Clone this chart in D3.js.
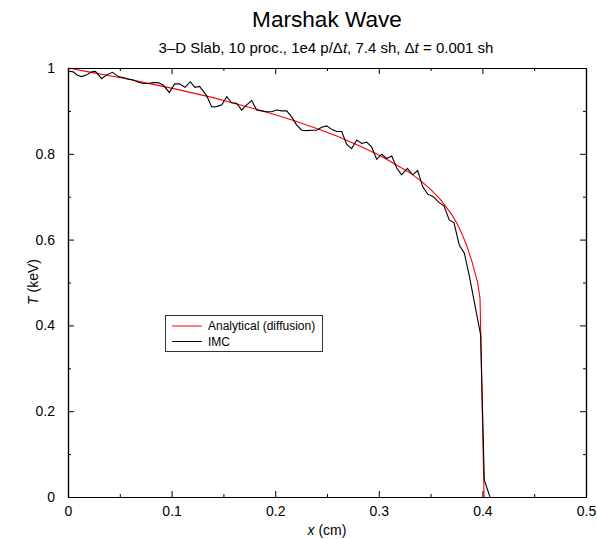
<!DOCTYPE html>
<html>
<head>
<meta charset="utf-8">
<script src="https://cdn.jsdelivr.net/npm/d3@7"></script>
<style>
  html, body { margin: 0; padding: 0; background: #fff; }
  svg { display: block; font-family: "Liberation Sans", Arial, Helvetica, sans-serif; }
</style>
</head>
<body>
<svg id="chart" width="597" height="539"></svg>
<script>
// ---- Data ----
const analyticalX = [0, 0.02, 0.04, 0.06, 0.08, 0.10, 0.12, 0.14, 0.16, 0.18, 0.20, 0.22, 0.24, 0.26, 0.28, 0.30, 0.31, 0.32, 0.33, 0.34, 0.35, 0.36, 0.37, 0.375, 0.38, 0.385, 0.39, 0.3954, 0.3977, 0.4016];
const analyticalT = [1.0, 0.991, 0.982, 0.973, 0.963, 0.953, 0.942, 0.931, 0.918, 0.905, 0.891, 0.876, 0.859, 0.841, 0.820, 0.797, 0.784, 0.770, 0.756, 0.738, 0.717, 0.692, 0.660, 0.640, 0.615, 0.585, 0.548, 0.500, 0.463, 0.0];

const imcX = [0.000, 0.005, 0.009, 0.013, 0.018, 0.023, 0.0265, 0.0325, 0.0373, 0.043, 0.0486, 0.0534, 0.0582, 0.063, 0.068, 0.0727, 0.0775, 0.0824, 0.0872, 0.092, 0.0978, 0.103, 0.1075, 0.113, 0.118, 0.1225, 0.127, 0.1339, 0.1387, 0.1435, 0.1484, 0.1532, 0.158, 0.1628, 0.1676, 0.1725, 0.1773, 0.1821, 0.187, 0.1918, 0.1966, 0.2014, 0.2063, 0.2111, 0.2159, 0.2207, 0.2256, 0.2304, 0.2352, 0.2400, 0.2449, 0.2497, 0.2545, 0.2594, 0.2642, 0.269, 0.2738, 0.2787, 0.2835, 0.2883, 0.2931, 0.298, 0.3028, 0.3076, 0.3125, 0.3173, 0.322, 0.3276, 0.3327, 0.3375, 0.3424, 0.3472, 0.3526, 0.3575, 0.363, 0.368, 0.3726, 0.3777, 0.3826, 0.3874, 0.3983, 0.4018, 0.4073];
const imcT = [0.993, 0.991, 0.983, 0.980, 0.984, 0.991, 0.992, 0.975, 0.984, 0.990, 0.980, 0.978, 0.974, 0.972, 0.967, 0.964, 0.964, 0.966, 0.966, 0.960, 0.943, 0.963, 0.963, 0.955, 0.968, 0.955, 0.957, 0.935, 0.909, 0.910, 0.914, 0.933, 0.919, 0.918, 0.902, 0.914, 0.924, 0.902, 0.900, 0.898, 0.898, 0.902, 0.900, 0.900, 0.886, 0.867, 0.855, 0.854, 0.855, 0.855, 0.862, 0.865, 0.857, 0.852, 0.852, 0.822, 0.812, 0.832, 0.824, 0.827, 0.816, 0.787, 0.799, 0.789, 0.795, 0.767, 0.751, 0.766, 0.751, 0.761, 0.723, 0.706, 0.700, 0.688, 0.678, 0.646, 0.639, 0.587, 0.568, 0.515, 0.378, 0.040, 0.000];

const xMajorTicks = [0, 0.1, 0.2, 0.3, 0.4, 0.5];
const xTickLabels = ["0", "0.1", "0.2", "0.3", "0.4", "0.5"];
const xMinorTicks = [0.05, 0.15, 0.25, 0.35, 0.45];
const yMajorTicks = [0, 0.2, 0.4, 0.6, 0.8, 1];
const yTickLabels = ["0", "0.2", "0.4", "0.6", "0.8", "1"];
const yMinorTicks = [0.1, 0.3, 0.5, 0.7, 0.9];
const seriesNames = ["Analytical (diffusion)", "IMC"];
const seriesColors = ["#ff0000", "#000000"];

// ---- Layout ----
const svg = d3.select("#chart");
const plot = { left: 68, right: 586, top: 68, bottom: 497 };
const x = d3.scaleLinear().domain([0, 0.5]).range([plot.left, plot.right]);
const y = d3.scaleLinear().domain([0, 1]).range([plot.bottom, plot.top]);

// Title
svg.append("text").attr("x", 327).attr("y", 27).attr("text-anchor", "middle")
  .attr("font-size", 22.6).text("Marshak Wave");

// Subtitle with italic t
const sub = svg.append("text").attr("x", 326).attr("y", 53).attr("text-anchor", "middle")
  .attr("font-size", 15);
sub.append("tspan").text("3\u2013D Slab, 10 proc., 1e4 p/\u0394");
sub.append("tspan").attr("font-style", "italic").text("t");
sub.append("tspan").text(", 7.4 sh, \u0394");
sub.append("tspan").attr("font-style", "italic").text("t");
sub.append("tspan").text(" = 0.001 sh");

// Lines
const line = d3.line().x(d => x(d[0])).y(d => y(d[1]));
svg.append("clipPath").attr("id", "clip").append("rect")
  .attr("x", plot.left).attr("y", plot.top - 1).attr("width", plot.right - plot.left).attr("height", plot.bottom - plot.top + 1);
const g = svg.append("g").attr("clip-path", "url(#clip)");
g.append("path").datum(d3.zip(analyticalX, analyticalT)).attr("d", line)
  .attr("fill", "none").attr("stroke", seriesColors[0]).attr("stroke-width", 1.1);
g.append("path").datum(d3.zip(imcX, imcT)).attr("d", line)
  .attr("fill", "none").attr("stroke", seriesColors[1]).attr("stroke-width", 1.1);

// Axes: bottom, top, left, right with inward ticks
function addAxis(axisGen, transform, showLabels) {
  const a = svg.append("g").attr("transform", transform).call(axisGen);
  a.select(".domain").attr("stroke", "#000").attr("stroke-width", 1.2);
  a.selectAll(".tick line").attr("stroke", "#000");
  if (!showLabels) a.selectAll(".tick text").remove();
  else a.selectAll(".tick text").attr("font-size", 14).attr("fill", "#000")
      .attr("font-family", "'Liberation Sans', Arial, sans-serif");
  return a;
}
const fmtX = (d, i) => xTickLabels[i];
const fmtY = (d, i) => yTickLabels[i];
addAxis(d3.axisBottom(x).tickValues(xMajorTicks).tickFormat(fmtX).tickSizeInner(-6).tickSizeOuter(0).tickPadding(9), `translate(0,${plot.bottom})`, true);
addAxis(d3.axisTop(x).tickValues(xMajorTicks).tickSizeInner(-6).tickSizeOuter(0), `translate(0,${plot.top})`, false);
addAxis(d3.axisLeft(y).tickValues(yMajorTicks).tickFormat(fmtY).tickSizeInner(-6).tickSizeOuter(0).tickPadding(13), `translate(${plot.left},0)`, true);
addAxis(d3.axisRight(y).tickValues(yMajorTicks).tickSizeInner(-6).tickSizeOuter(0), `translate(${plot.right},0)`, false);
// minor ticks
addAxis(d3.axisBottom(x).tickValues(xMinorTicks).tickSizeInner(-3).tickSizeOuter(0), `translate(0,${plot.bottom})`, false);
addAxis(d3.axisTop(x).tickValues(xMinorTicks).tickSizeInner(-3).tickSizeOuter(0), `translate(0,${plot.top})`, false);
addAxis(d3.axisLeft(y).tickValues(yMinorTicks).tickSizeInner(-3).tickSizeOuter(0), `translate(${plot.left},0)`, false);
addAxis(d3.axisRight(y).tickValues(yMinorTicks).tickSizeInner(-3).tickSizeOuter(0), `translate(${plot.right},0)`, false);

// Axis titles
const xl = svg.append("text").attr("x", 327).attr("y", 535).attr("text-anchor", "middle").attr("font-size", 14);
xl.append("tspan").attr("font-style", "italic").text("x");
xl.append("tspan").text(" (cm)");
const yl = svg.append("text").attr("transform", "translate(38,282) rotate(-90)").attr("text-anchor", "middle").attr("font-size", 14);
yl.append("tspan").attr("font-style", "italic").text("T");
yl.append("tspan").text(" (keV)");

// Legend
const lg = svg.append("g");
lg.append("rect").attr("x", 165.5).attr("y", 315.5).attr("width", 157).attr("height", 36)
  .attr("fill", "#fff").attr("stroke", "#333").attr("stroke-width", 1);
seriesNames.forEach((name, i) => {
  const yy = 326 + i * 15.5;
  lg.append("line").attr("x1", 172).attr("x2", 202).attr("y1", yy).attr("y2", yy)
    .attr("stroke", seriesColors[i]).attr("stroke-width", 1);
  lg.append("text").attr("x", 208).attr("y", yy + 4).attr("font-size", 12).text(name);
});
</script>
</body>
</html>
